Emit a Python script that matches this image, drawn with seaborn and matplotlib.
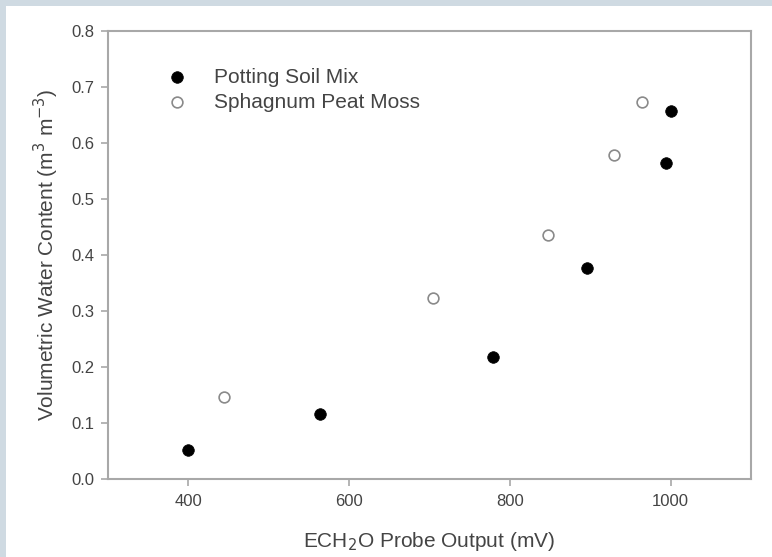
import matplotlib
matplotlib.use("Agg")
import matplotlib.pyplot as plt
import seaborn as sns
import pandas as pd
from matplotlib.patches import Rectangle

# data
soil_mv = [399, 564, 779, 896, 994, 1001]
soil_vwc = [0.052, 0.116, 0.218, 0.377, 0.564, 0.657]
peat_mv = [444, 704, 848, 929, 964]
peat_vwc = [0.146, 0.323, 0.436, 0.579, 0.673]

soil = pd.DataFrame({'mv': soil_mv, 'vwc': soil_vwc})
peat = pd.DataFrame({'mv': peat_mv, 'vwc': peat_vwc})

sns.set_style("white")
plt.rcParams['font.family'] = ['Liberation Sans', 'DejaVu Sans']

fig = plt.figure(figsize=(7.72, 5.57), dpi=100, facecolor='#cfdae2')
# white panel leaving a thin grey band on the left and top
fig.patches.append(Rectangle((6/772, 0), 1, 1 - 6/557, transform=fig.transFigure,
                             facecolor='white', edgecolor='none', zorder=-10))
ax = fig.add_axes([108/772, 1 - 479/557, (751-108)/772, (479-31)/557])

sns.scatterplot(data=soil, x='mv', y='vwc', ax=ax, color='black', s=70,
                edgecolor='black', linewidth=0.5, label='Potting Soil Mix', zorder=3)
sns.scatterplot(data=peat, x='mv', y='vwc', ax=ax, facecolor='white', s=60,
                edgecolor='#8a8a8a', linewidth=1.2, label='Sphagnum Peat Moss', zorder=3)

ax.set_xlim(300, 1100)
ax.set_ylim(0, 0.8)
ax.set_xticks([400, 600, 800, 1000])
ax.set_yticks([0.0, 0.1, 0.2, 0.3, 0.4, 0.5, 0.6, 0.7, 0.8])
ax.set_yticklabels([f"{v:.1f}" for v in ax.get_yticks()])

for s in ax.spines.values():
    s.set_color('#a8a8a8')
    s.set_linewidth(1.5)
ax.tick_params(bottom=True, left=True, direction='out', length=5, width=1.2,
               color='#a8a8a8', labelsize=12, labelcolor='#444444', pad=5)
ax.tick_params(axis='x', pad=6)

ax.set_xlabel("ECH$_2$O Probe Output (mV)", fontsize=15, color='#444444', labelpad=15)
ax.set_ylabel("Volumetric Water Content (m$^3$ m$^{-3}$)", fontsize=15,
              color='#444444', labelpad=7)

leg = ax.legend(loc='upper left', bbox_to_anchor=(0.045, 0.96), frameon=False,
                fontsize=15, handletextpad=0.8, labelspacing=0.3, labelcolor='#444444')

fig.savefig("out.png", dpi=100, facecolor=fig.get_facecolor())
